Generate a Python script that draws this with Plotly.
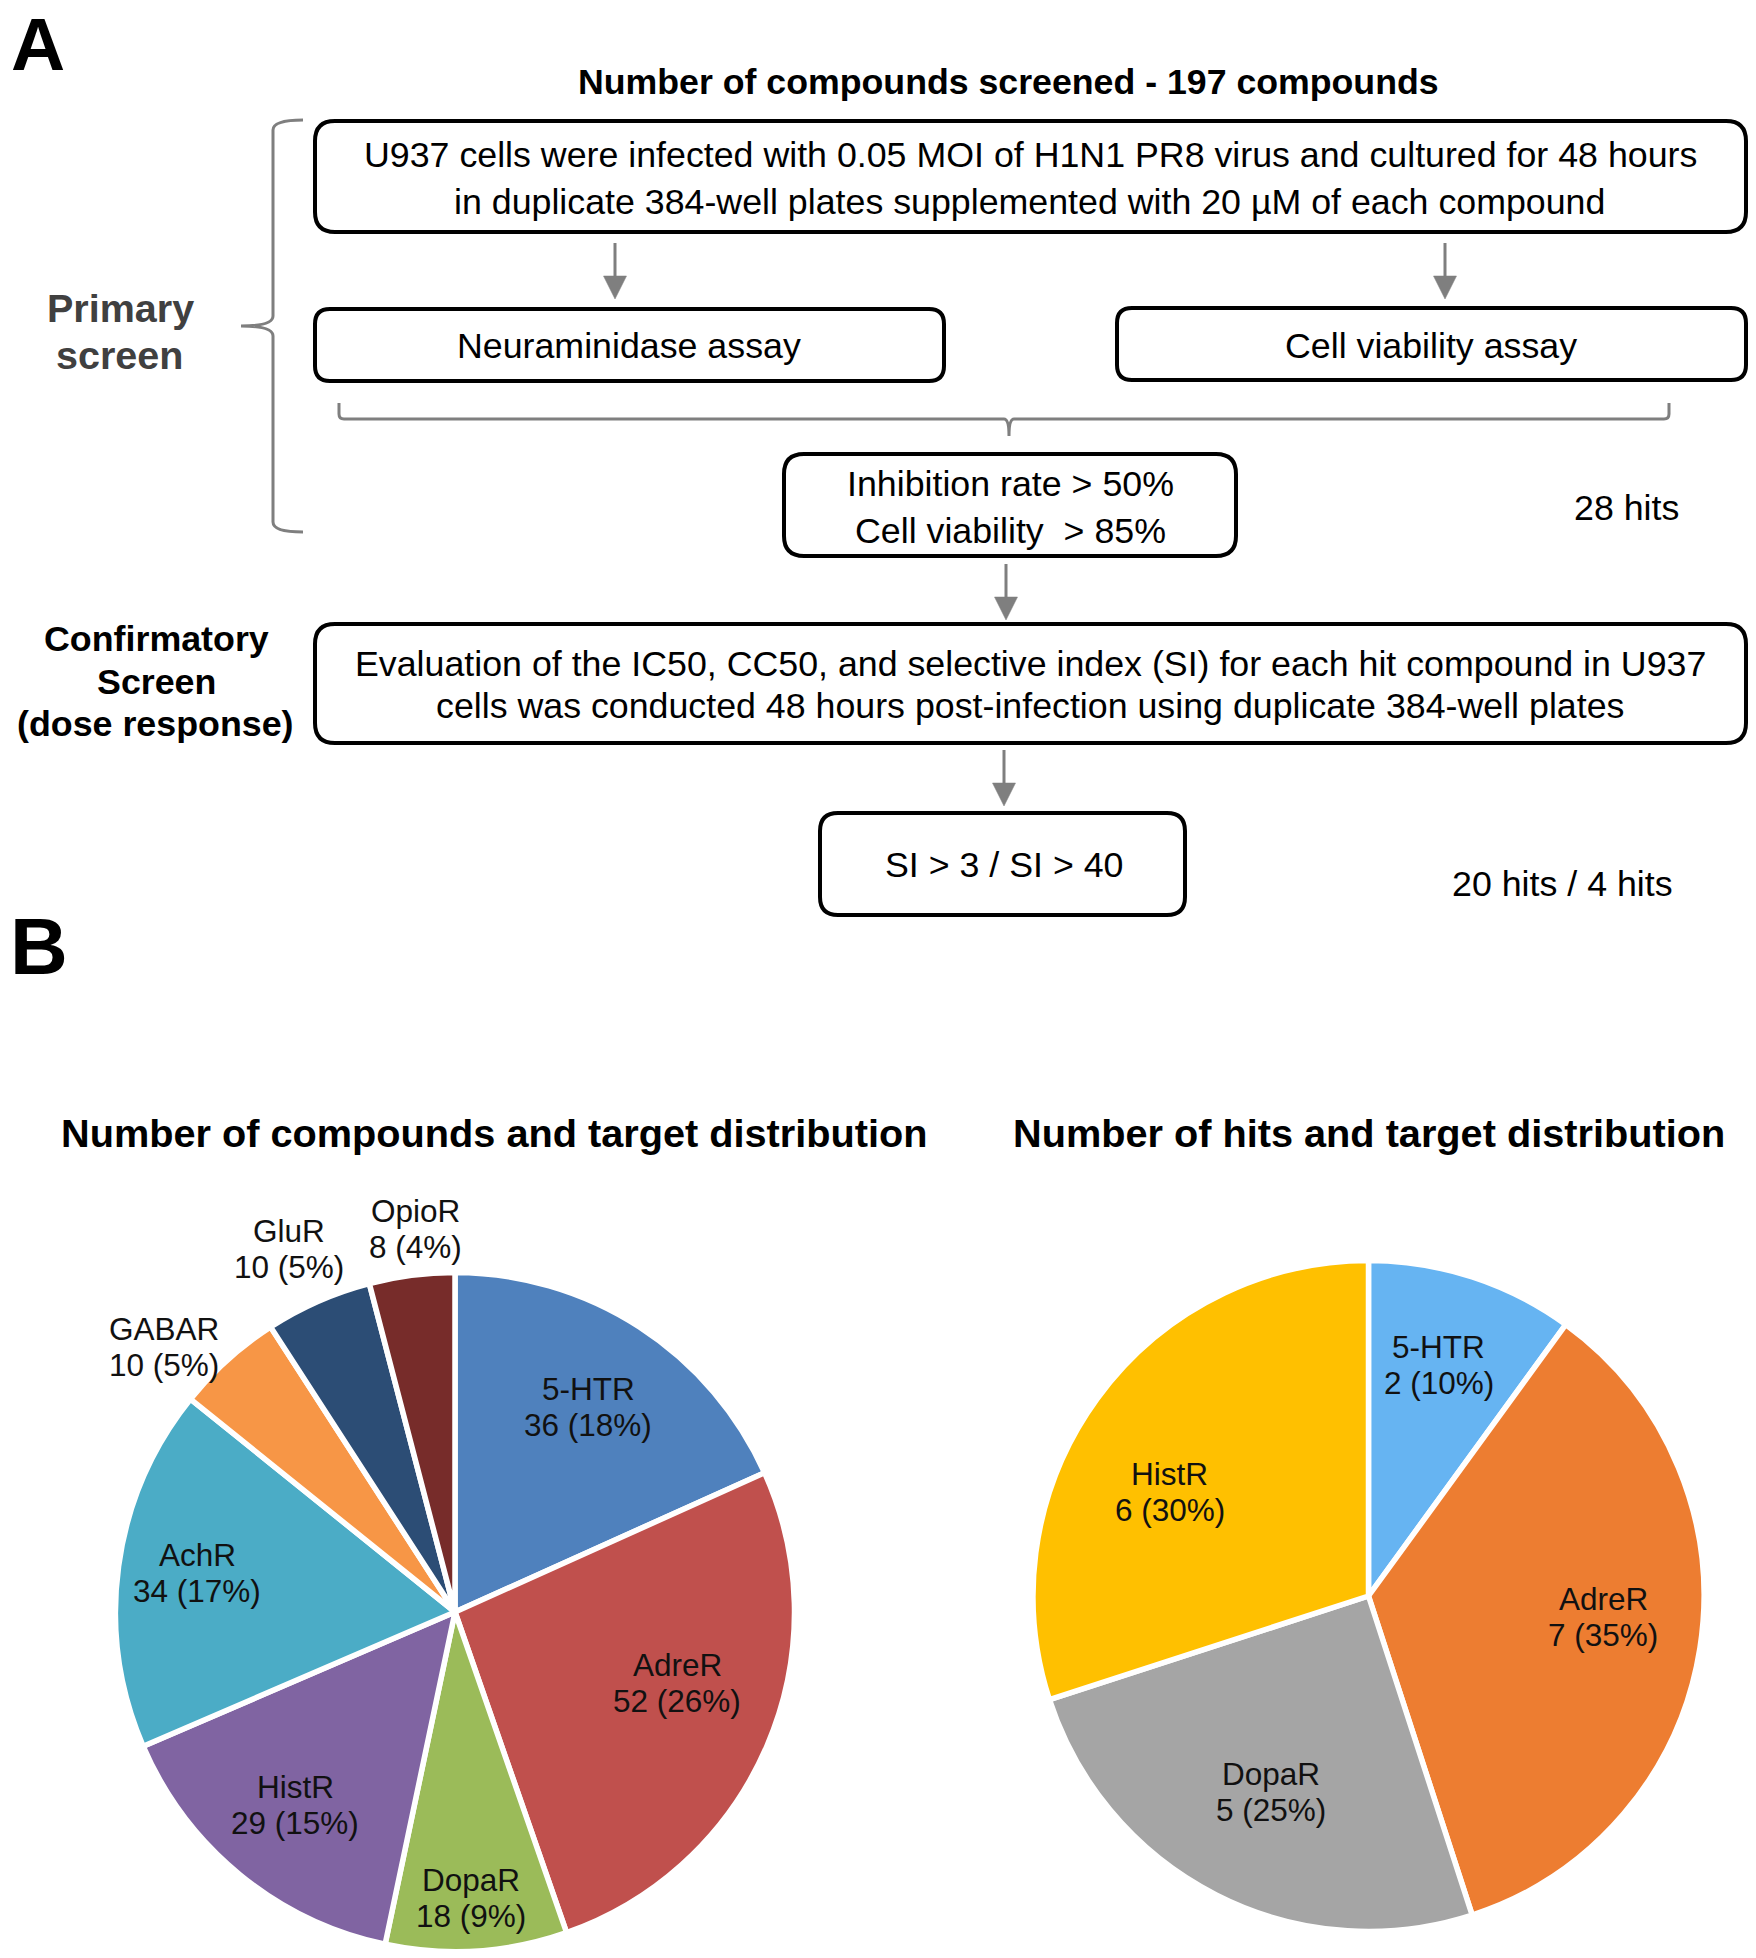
import plotly.graph_objects as go

# ---- data -------------------------------------------------------------
compound_targets = ["5-HTR", "AdreR", "DopaR", "HistR", "AchR", "GABAR", "GluR", "OpioR"]
compound_counts = [36, 52, 18, 29, 34, 10, 10, 8]          # as printed on the labels
compound_slice_sizes = [36, 52, 17, 30, 34, 10, 10, 8]     # as the slices are drawn in the picture
compound_colors = ["#4F81BD", "#C0504D", "#9BBB59", "#8064A2", "#4BACC6", "#F79646", "#2C4D75", "#772C2A"]

hit_targets = ["5-HTR", "AdreR", "DopaR", "HistR"]
hit_counts = [2, 7, 5, 6]
hit_colors = ["#66B4F2", "#ED7D31", "#A5A5A5", "#FFC000"]

title_compounds = "Number of compounds and target distribution"
title_hits = "Number of hits and target distribution"

# ---- canvas helpers ----------------------------------------------------
W, H = 1756, 1958
FONT = "Liberation Sans"
GREY = "#7F7F7F"
BODY = 35.75


def X(p):
    return p / W


def Y(p):
    return 1 - p / H


def P(x, y):
    return f"{X(x):.6f},{Y(y):.6f}"


annotations = []
shapes = []


def text(x, y, s, size=BODY, bold=False, color="#000000"):
    annotations.append(dict(
        x=X(x), y=Y(y), xref="paper", yref="paper", text=f"<b>{s}</b>" if bold else s,
        showarrow=False, xanchor="center", yanchor="middle",
        font=dict(family=FONT, size=size, color=color), align="center",
    ))


def rbox(x0, y0, x1, y1, r=20, lw=4):
    # the given extents are the outer edge of the stroke
    i = lw / 2
    x0, y0, x1, y1 = x0 + i, y0 + i, x1 - i, y1 - i
    d = (f"M{P(x0 + r, y0)} L{P(x1 - r, y0)} Q{P(x1, y0)} {P(x1, y0 + r)} "
         f"L{P(x1, y1 - r)} Q{P(x1, y1)} {P(x1 - r, y1)} "
         f"L{P(x0 + r, y1)} Q{P(x0, y1)} {P(x0, y1 - r)} "
         f"L{P(x0, y0 + r)} Q{P(x0, y0)} {P(x0 + r, y0)} Z")
    shapes.append(dict(type="path", path=d, xref="paper", yref="paper",
                       line=dict(color="#000000", width=lw), fillcolor="rgba(0,0,0,0)"))


def arrow(x, y0, yh, y1):
    shapes.append(dict(type="line", x0=X(x), x1=X(x), y0=Y(y0), y1=Y(yh), xref="paper", yref="paper",
                       line=dict(color=GREY, width=3)))
    d = f"M{P(x - 11.5, yh)} L{P(x + 11.5, yh)} L{P(x, y1)} Z"
    shapes.append(dict(type="path", path=d, xref="paper", yref="paper",
                       line=dict(color=GREY, width=0.5), fillcolor=GREY))


def stroke(d, width=3):
    shapes.append(dict(type="path", path=d, xref="paper", yref="paper",
                       line=dict(color=GREY, width=width), fillcolor="rgba(0,0,0,0)"))


# ---- panel letters and flow chart -------------------------------------
text(38, 43.5, "A", size=75, bold=True)
text(39, 946, "B", size=80, bold=True)

text(1009, 82, "Number of compounds screened - 197 compounds", size=35.7, bold=True)

rbox(313, 119, 1748, 234, r=20)
text(1030, 155, "U937 cells were infected with 0.05 MOI of H1N1 PR8 virus and cultured for 48 hours")
text(1029.5, 202, "in duplicate 384-well plates supplemented with 20 µM of each compound")

arrow(615, 243, 276, 299)
arrow(1445, 243, 276, 299)

rbox(313, 307, 946, 383, r=15)
text(629, 346, "Neuraminidase assay")
rbox(1115, 306, 1748, 382, r=15)
text(1431, 346, "Cell viability assay")

# bracket under the two assays
stroke(f"M{P(339, 403)} L{P(339, 414)} Q{P(339, 419)} {P(344, 419)} L{P(1004, 419)} "
       f"Q{P(1009, 419)} {P(1009, 436)} Q{P(1009, 419)} {P(1014, 419)} "
       f"L{P(1664, 419)} Q{P(1669, 419)} {P(1669, 414)} L{P(1669, 403)}")

rbox(782, 452, 1238, 558, r=20)
text(1010, 484, "Inhibition rate &gt; 50%")
text(1010, 531, "Cell viability  &gt; 85%")
text(1626, 508, "28 hits")

arrow(1006, 564, 597, 620)

rbox(313, 622, 1748, 745, r=20)
text(1030, 664, "Evaluation of the IC50, CC50, and selective index (SI) for each hit compound in U937")
text(1030, 706, "cells was conducted 48 hours post-infection using duplicate 384-well plates")

arrow(1004, 750, 783, 806)

rbox(818, 811, 1187, 917, r=18)
text(1004, 865, "SI &gt; 3 / SI &gt; 40")
text(1562, 884, "20 hits / 4 hits")

# brace of the primary screen
stroke(f"M{P(303, 120)} Q{P(273, 120)} {P(273, 130)} L{P(273, 316)} Q{P(273, 326)} {P(241, 326)} "
       f"Q{P(273, 326)} {P(273, 336)} L{P(273, 522)} Q{P(273, 532)} {P(303, 532)}", width=3)

text(120, 307.5, "Primary", size=39.5, bold=True, color="#404040")
text(119, 355, "screen", size=39.5, bold=True, color="#404040")

text(156, 639, "Confirmatory", size=35.8, bold=True)
text(156, 682, "Screen", size=35.8, bold=True)
text(155, 724, "(dose response)", size=35.8, bold=True)

# ---- chart titles ------------------------------------------------------
text(494, 1133, title_compounds, size=39.7, bold=True)
text(1368.5, 1133, title_hits, size=39.7, bold=True)

# ---- pie labels --------------------------------------------------------
compound_label_pos = [(588, 1407), (677, 1683), (471, 1898), (295, 1805),
                      (197, 1573), (164, 1347), (289, 1249), (415, 1229)]
hit_label_pos = [(1438.5, 1365), (1603, 1617), (1270.5, 1792), (1169.5, 1492)]


def pie_labels(names, counts, positions):
    total = sum(counts)
    for n, c, (x, y) in zip(names, counts, positions):
        text(x, y - 18, n, size=31.5, color="#111111")
        text(x, y + 18, f"{c} ({round(100 * c / total)}%)", size=31.5, color="#111111")


pie_labels(compound_targets, compound_counts, compound_label_pos)
pie_labels(hit_targets, hit_counts, hit_label_pos)


# ---- pies --------------------------------------------------------------
def pie(names, counts, colors, cx, cy, r):
    return go.Pie(
        labels=names, values=counts, sort=False, direction="clockwise", rotation=0,
        marker=dict(colors=colors, line=dict(color="#FFFFFF", width=5.5)),
        textinfo="none", showlegend=False, hoverinfo="label",
        domain=dict(x=[X(cx - r), X(cx + r)], y=[Y(cy + r), Y(cy - r)]),
    )


fig = go.Figure([
    pie(compound_targets, compound_slice_sizes, compound_colors, 455, 1612, 339.5),
    pie(hit_targets, hit_counts, hit_colors, 1368.5, 1596, 335.5),
])
fig.update_layout(
    width=W, height=H, margin=dict(l=0, r=0, t=0, b=0),
    paper_bgcolor="#FFFFFF", plot_bgcolor="#FFFFFF",
    font=dict(family=FONT), shapes=shapes, annotations=annotations,
)
fig.write_html("out.html", config={"displayModeBar": False},
               post_script="document.body.style.margin='0';document.documentElement.style.overflow='hidden';")
